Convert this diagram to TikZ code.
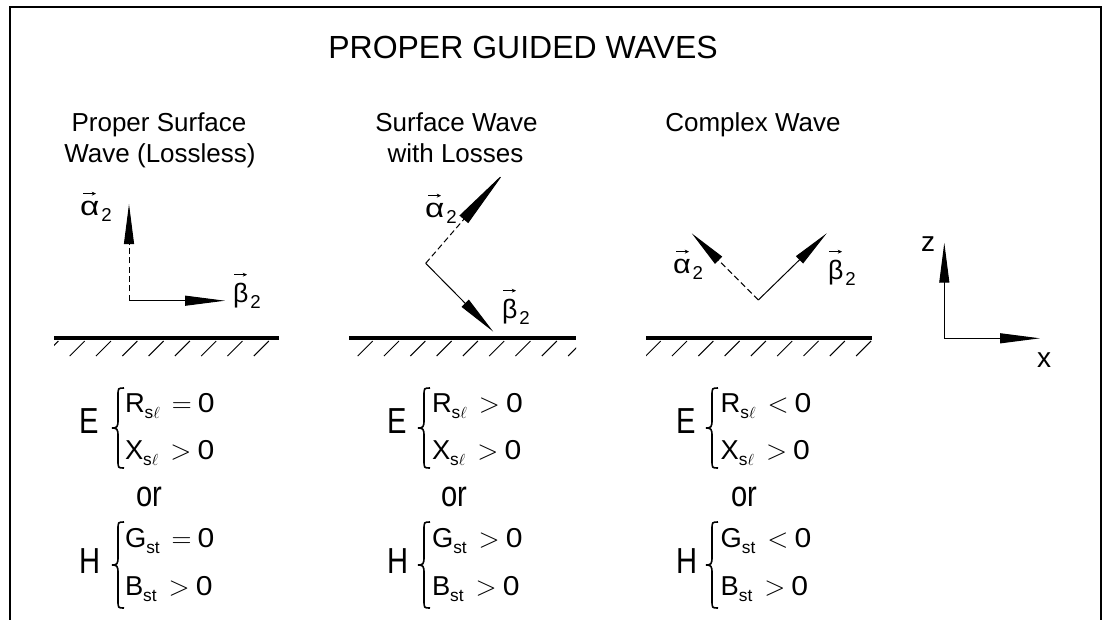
\documentclass[tikz,border=0pt]{standalone}
\usepackage{fontspec}
\setmainfont{Liberation Sans}
\usepackage{amsmath}
\usepackage{graphicx}
\usetikzlibrary{arrows.meta}
\newcommand{\glab}[2]{{\fontsize{20}{20}\selectfont\scalebox{#2}[1]{#1}}\hspace{1.5pt}\raisebox{-5pt}{\fontsize{14}{14}\selectfont 2}}
\newcommand{\bigtx}[1]{\scalebox{0.95}[1.18]{\fontsize{23}{23}\selectfont #1}}
\newcommand{\eqr}[3]{\fontsize{20.5}{20.5}\selectfont #1\raisebox{-4.5pt}{\fontsize{13}{13}\selectfont #2}\hspace{9pt}$#3$\hspace{4.5pt}\scalebox{1.1}[1]{0}}
\newcommand{\ssl}{s$\ell$}
\newcommand{\brc}[4]{%
  \pgfmathsetmacro{\bxm}{#1-6}\pgfmathsetmacro{\bxl}{#1-12}%
  \pgfmathsetmacro{\bym}{(#3+#4)/2}%
  \draw[bracestyle] (#1,#3) .. controls (\bxm,#3) and (\bxm,#3) .. (\bxm,#3+8)
    -- (\bxm,\bym-8) .. controls (\bxm,\bym-1) and (\bxm-1,\bym) .. (\bxl,\bym)
    .. controls (\bxm-1,\bym) and (\bxm,\bym+1) .. (\bxm,\bym+8)
    -- (\bxm,#4-8) .. controls (\bxm,#4) and (\bxm,#4) .. (#1,#4);}
\begin{document}
\begin{tikzpicture}[x=0.75pt,y=-0.75pt,
  every node/.style={inner sep=0pt,outer sep=0pt},
  vec/.style={line width=0.75pt,-{Triangle[length=30pt,width=7.5pt]}},
  vecd/.style={vec,dash pattern=on 4.5pt off 2.5pt},
  acc/.style={line width=0.55pt,-{Stealth[length=3.2pt,width=3pt]}},
  ground/.style={line width=3pt},
  hatchl/.style={line width=0.75pt},
  bracestyle/.style={line width=1.2pt},
  frame/.style={line width=1.5pt},
  ttl/.style={font=\fontsize{24}{24}\selectfont,anchor=base},
  hd/.style={font=\fontsize{19.5}{19.5}\selectfont,anchor=base},
  lbl/.style={anchor=base west},
  axl/.style={anchor=base west,font=\fontsize{21}{21}\selectfont}]
\useasboundingbox (0,0) rectangle (1103,619);
\draw[frame] (10,630) -- (10,7) -- (1100.5,7) -- (1100.5,630);

\node[ttl] (title) at (523,58) {PROPER GUIDED WAVES};
\node[hd] (h1a) at (159,131) {Proper Surface};
\node[hd] (h1b) at (160,162) {Wave (Lossless)};
\node[hd] (h2a) at (456.5,131) {Surface Wave};
\node[hd] (h2b) at (455.5,162) {with Losses};
\node[hd] (h3) at (753,131) {Complex Wave};

% grounds
\draw[ground] (54,338) -- (279,338);
\draw[ground] (349,338) -- (576,338);
\draw[ground] (646,338) -- (872,338);
\begin{scope}
\clip (54,336) rectangle (279,360);
\foreach \h in {58.4,84.7,...,270} \draw[hatchl] (\h,341) -- ++(-15,15);
\end{scope}
\begin{scope}
\clip (349,336) rectangle (576,360);
\foreach \h in {372.7,399,...,590} \draw[hatchl] (\h,341) -- ++(-15,15);
\end{scope}
\begin{scope}
\clip (646,336) rectangle (872,360);
\foreach \h in {660.7,687,...,875} \draw[hatchl] (\h,341) -- ++(-15,15);
\end{scope}

% panel 1 vectors
\coordinate (c1) at (129,300.7);
\coordinate (ta1) at (129,204);
\coordinate (tb1) at (225,300.7);
\draw[vecd] (c1) -- (ta1);
\draw[vec] (c1) -- (tb1);
\node[lbl] (a1) at (80,215) {\glab{α}{1.25}};
\node[lbl] (b1) at (233,302) {\glab{β}{1}};

% panel 2 vectors
\coordinate (c2) at (425.7,263.3);
\coordinate (ta2) at (504,173);
\coordinate (tb2) at (493.3,331.7);
\draw[vecd,-{Triangle[length=46pt,width=8.5pt]}] (c2) -- (ta2);
\draw[vec] (c2) -- (tb2);
\node[lbl] (a2) at (425,217) {\glab{α}{1.25}};
\node[lbl] (b2) at (502,318) {\glab{β}{1}};

% panel 3 vectors
\coordinate (c3) at (758.3,300);
\coordinate (ta3) at (691.7,233.3);
\coordinate (tb3) at (826.7,233.3);
\draw[vecd,-{Triangle[length=28.5pt,width=7.5pt]}] (c3) -- (ta3);
\draw[vec,-{Triangle[length=28.5pt,width=7.5pt]}] (c3) -- (tb3);
\node[lbl] (a3) at (673,273) {\glab{α}{1.15}};
\node[lbl] (b3) at (828,279) {\glab{β}{1}};

% vector accents over the Greek letters
\foreach \n in {a1,a2,a3}
  \draw[acc] ([shift={(3,-7)}]\n.north west) -- ++(13,0);
\foreach \n in {b1,b2,b3}
  \draw[acc] ([shift={(1,-8)}]\n.north west) -- ++(13,0);

% axes
\coordinate (o) at (944.3,338.3);
\coordinate (zt) at (944.3,242.7);
\coordinate (xt) at (1040,338.3);
\draw[vec] (o) -- (zt);
\draw[vec] (o) -- (xt);
\node[axl] (zl) at (921,251) {z};
\node[axl] (xl) at (1037,367) {x};

% equations panel 1
\node[lbl] (E1) at (79,433) {\bigtx{E}};
\brc{124}{x}{388}{468}
\node[lbl] (R1) at (125,412) {\eqr{R}{\ssl}{=}};
\node[lbl] (X1) at (125,459) {\eqr{X}{\ssl}{>}};
\node[lbl] (or1) at (136,506) {\bigtx{or}};
\node[lbl] (H1) at (79,573) {\bigtx{H}};
\brc{124}{x}{522}{608}
\node[lbl] (G1) at (125,547) {\eqr{G}{st}{=}};
\node[lbl] (B1) at (125,595) {\eqr{B}{st}{>}};

% equations panel 2
\node[lbl] (E2) at (387,433) {\bigtx{E}};
\brc{430}{x}{388}{468}
\node[lbl] (R2) at (432,412) {\eqr{R}{\ssl}{>}};
\node[lbl] (X2) at (432,459) {\eqr{X}{\ssl}{>}};
\node[lbl] (or2) at (441,506) {\bigtx{or}};
\node[lbl] (H2) at (387,573) {\bigtx{H}};
\brc{430}{x}{522}{608}
\node[lbl] (G2) at (432,547) {\eqr{G}{st}{>}};
\node[lbl] (B2) at (432,595) {\eqr{B}{st}{>}};

% equations panel 3
\node[lbl] (E3) at (676,433) {\bigtx{E}};
\brc{718}{x}{388}{468}
\node[lbl] (R3) at (720.7,412) {\eqr{R}{\ssl}{<}};
\node[lbl] (X3) at (720.7,459) {\eqr{X}{\ssl}{>}};
\node[lbl] (or3) at (731,506) {\bigtx{or}};
\node[lbl] (H3) at (676,573) {\bigtx{H}};
\brc{718}{x}{522}{608}
\node[lbl] (G3) at (720.7,547) {\eqr{G}{st}{<}};
\node[lbl] (B3) at (720.7,595) {\eqr{B}{st}{>}};
\end{tikzpicture}
\end{document}
